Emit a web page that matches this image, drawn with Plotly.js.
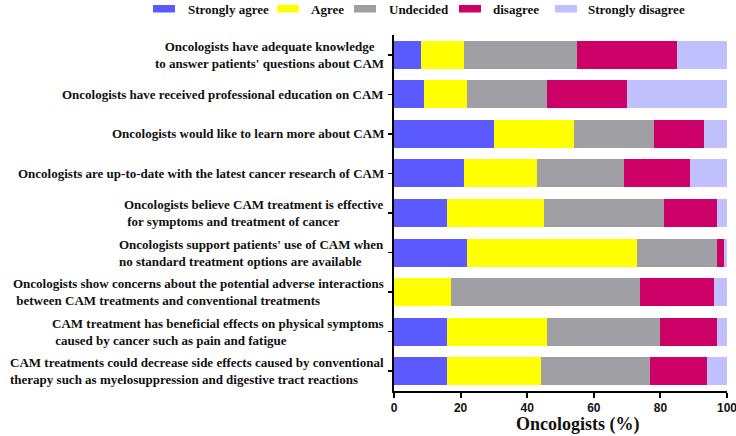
<!DOCTYPE html>
<html>
<head>
<meta charset="utf-8">
<script src="https://cdn.plot.ly/plotly-3.0.1.min.js"></script>
<style>html,body{margin:0;padding:0;background:#fff;}#chart{width:736px;height:436px;}</style>
</head>
<body>
<div id="chart"></div>
<script>
// ---- data ----
var categories = [
  "Oncologists have adequate knowledge<br>to answer patients' questions about CAM",
  "Oncologists have received professional education on CAM",
  "Oncologists would like to learn more about CAM",
  "Oncologists are up-to-date with the latest cancer research of CAM",
  "Oncologists believe CAM treatment is effective<br> for symptoms and treatment of cancer",
  "Oncologists support patients' use of CAM when<br>no standard treatment options are available",
  "Oncologists show concerns about the potential adverse interactions<br> between CAM treatments and conventional treatments",
  "CAM treatment has beneficial effects on physical symptoms<br> caused by cancer such as pain and fatigue",
  "CAM treatments could decrease side effects caused by conventional<br>therapy such as myelosuppression and digestive tract reactions"
];
var seriesNames = ["Strongly agree", "Agree", "Undecided", "disagree", "Strongly disagree"];
var stronglyAgree    = [8, 9, 30, 21, 16, 22, 0, 16, 16];
var agree            = [13, 13, 24, 22, 29, 51, 17, 30, 28];
var undecided        = [34, 24, 24, 26, 36, 24, 57, 34, 33];
var disagree         = [30, 24, 15, 20, 16, 2, 22, 17, 17];
var stronglyDisagree = [15, 30, 7, 11, 3, 1, 4, 3, 6];
var xTickValues = [0, 20, 40, 60, 80, 100];
var xAxisTitle = "Oncologists (%)";

// ---- styles ----
var colors = ["#5a5aff", "#ffff00", "#a0a0a4", "#cc0066", "#c0c0ff"];
var seriesValues = [stronglyAgree, agree, undecided, disagree, stronglyDisagree];
var serif = "Liberation Serif";

var traces = seriesValues.map(function (vals, i) {
  return {
    type: "bar",
    orientation: "h",
    name: seriesNames[i],
    x: vals,
    y: categories,
    marker: { color: colors[i], line: { width: 0 } },
    hoverinfo: "x+name"
  };
});

// plot area in pixels: x 394..727, y 35..391
var L = 394, R = 9, T = 35, B = 45, W = 736, H = 436;
var pw = W - L - R, ph = H - T - B;
function px2x(p) { return (p - L) / pw; }
function py2y(p) { return (H - B - p) / ph; }

var annotations = categories.map(function (c, i) {
  return {
    xref: "paper", yref: "y", x: 0, y: c, xshift: -8,
    xanchor: "right", yanchor: "middle",
    align: i === 0 ? "center" : "left",
    text: c, showarrow: false,
    font: { family: serif, size: 13, color: "#111", weight: "bold" }
  };
});

// x-axis title (placed as in the reference, slightly right of the plot centre)
annotations.push({
  xref: "paper", yref: "paper", x: px2x(578), y: py2y(424),
  xanchor: "center", yanchor: "middle", showarrow: false, text: xAxisTitle,
  font: { family: serif, size: 18, color: "#111", weight: "bold" }
});

// custom legend (wide swatches as in the reference)
var legSwatchX = [153, 277, 354, 459, 555];
var legTextX = [186, 309, 387, 491, 586];
var shapes = [];
seriesNames.forEach(function (n, i) {
  shapes.push({
    type: "rect", xref: "paper", yref: "paper",
    x0: px2x(legSwatchX[i]), x1: px2x(legSwatchX[i] + 22),
    y0: py2y(12.5), y1: py2y(5),
    fillcolor: colors[i], line: { width: 0 }
  });
  annotations.push({
    xref: "paper", yref: "paper", x: px2x(legTextX[i]), y: py2y(9.5),
    xanchor: "left", yanchor: "middle", showarrow: false, text: n,
    font: { family: serif, size: 13, color: "#111", weight: "bold" }
  });
});

var layout = {
  width: W, height: H,
  margin: { l: L, r: R, t: T, b: B, pad: 0 },
  paper_bgcolor: "#fff", plot_bgcolor: "#fff",
  barmode: "stack", bargap: 0.29,
  showlegend: false,
  xaxis: {
    range: [0, 100], tickvals: xTickValues, ticktext: xTickValues.map(String),
    showgrid: false, zeroline: false,
    showline: true, linecolor: "#000", linewidth: 2,
    ticks: "outside", ticklen: 5, tickwidth: 2, tickcolor: "#000",
    ticklabeloverflow: "allow",
    tickfont: { family: "Liberation Sans", size: 12, color: "#111", weight: "bold" },
    automargin: false, fixedrange: true
  },
  yaxis: {
    type: "category", autorange: "reversed",
    showticklabels: false, showgrid: false, zeroline: false,
    showline: true, linecolor: "#000", linewidth: 2,
    ticks: "outside", ticklen: 4, tickwidth: 1.5, tickcolor: "#000",
    automargin: false, fixedrange: true
  },
  annotations: annotations,
  shapes: shapes
};

Plotly.newPlot("chart", traces, layout, { displayModeBar: false, staticPlot: true });
</script>
</body>
</html>
